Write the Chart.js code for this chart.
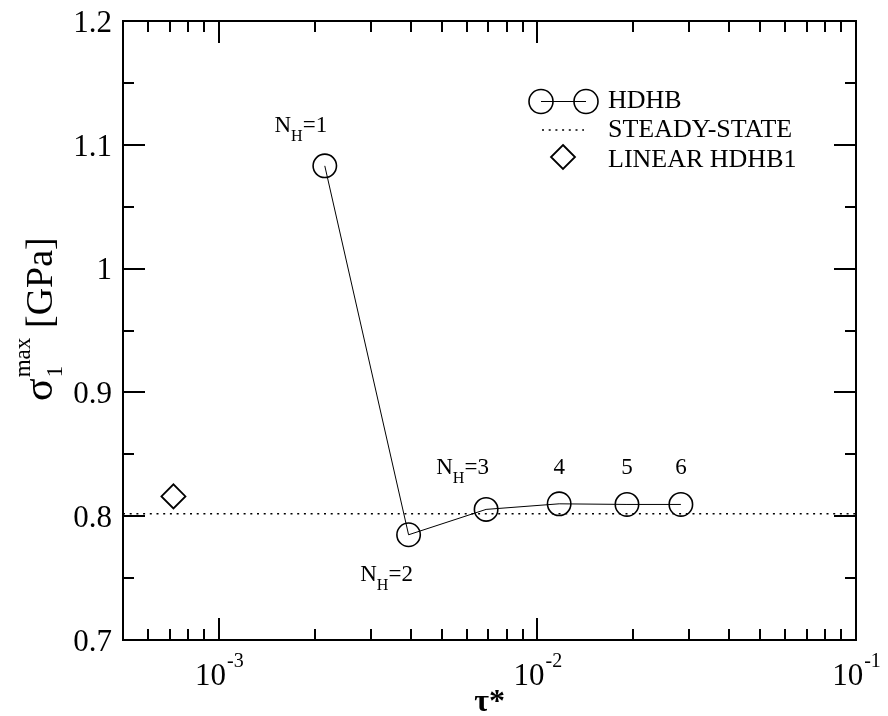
<!DOCTYPE html>
<html><head><meta charset="utf-8">
<script src="https://cdn.jsdelivr.net/npm/chart.js@4/dist/chart.umd.min.js"></script>
<style>html,body{margin:0;padding:0;background:#fff}#wrap{width:888px;height:716px;position:relative}</style>
</head><body><div id="wrap"><canvas id="c"></canvas></div>
<script>
// ---- data ----
const hdhbX = [2.15e-3, 3.94e-3, 6.9e-3, 1.17e-2, 1.91e-2, 2.82e-2];
const hdhbY = [1.083, 0.785, 0.8055, 0.810, 0.8095, 0.8095];
const hdhbMain = ['N', 'N', 'N', '4', '5', '6'];
const hdhbSub = ['H', 'H', 'H', '', '', ''];
const hdhbRest = ['=1', '=2', '=3', '', '', ''];
const steadyX = [5e-4, 1e-1];
const steadyY = [0.802, 0.802];
const linearX = [7.2e-4];
const linearY = [0.816];
const seriesNames = ['HDHB', 'STEADY-STATE', 'LINEAR HDHB1'];
const xMajorTicks = [1e-3, 1e-2, 1e-1];
const xMajorExp = ['-3', '-2', '-1'];
const xMinorTicks = [6e-4, 7e-4, 8e-4, 9e-4, 2e-3, 3e-3, 4e-3, 5e-3, 6e-3, 7e-3, 8e-3, 9e-3, 2e-2, 3e-2, 4e-2, 5e-2, 6e-2, 7e-2, 8e-2, 9e-2];
const yMajorTicks = [0.7, 0.8, 0.9, 1.0, 1.1, 1.2];
const yMajorLabels = ['0.7', '0.8', '0.9', '1', '1.1', '1.2'];
const yMinorTicks = [0.75, 0.85, 0.95, 1.05, 1.15];

// ---- layout (offsets of point labels, px) ----
const labelDX = [-24, -22, -23.5, 0, 0, 0];
const labelDY = [-34, 46, -35, -30, -30, -30];

const SERIF = '"Liberation Serif", "DejaVu Serif", serif';

function drawSubLabel(ctx, x, y, main, sub, rest, size) {
  ctx.font = size + 'px ' + SERIF;
  const w1 = ctx.measureText(main).width;
  const w3 = ctx.measureText(rest).width;
  ctx.font = (size * 0.7) + 'px ' + SERIF;
  const w2 = sub ? ctx.measureText(sub).width : 0;
  const total = w1 + w2 + w3;
  let cx = x - total / 2;
  ctx.textAlign = 'left';
  ctx.textBaseline = 'alphabetic';
  ctx.font = size + 'px ' + SERIF;
  ctx.fillText(main, cx, y); cx += w1;
  if (sub) { ctx.font = (size * 0.7) + 'px ' + SERIF; ctx.fillText(sub, cx, y + 9); cx += w2; }
  ctx.font = size + 'px ' + SERIF;
  if (rest) ctx.fillText(rest, cx, y);
}

const decor = {
  id: 'decor',
  afterDraw(chart) {
    const ctx = chart.ctx;
    const a = chart.chartArea;
    const xs = chart.scales.x, ys = chart.scales.y;
    ctx.save();
    ctx.strokeStyle = '#000';
    ctx.fillStyle = '#000';
    // frame
    ctx.lineWidth = 2;
    ctx.strokeRect(a.left, a.top, a.right - a.left, a.bottom - a.top);
    // ticks
    ctx.lineWidth = 2;
    ctx.beginPath();
    xMajorTicks.forEach(v => {
      const px = Math.round(xs.getPixelForValue(v));
      ctx.moveTo(px, a.bottom); ctx.lineTo(px, a.bottom - 22);
      ctx.moveTo(px, a.top); ctx.lineTo(px, a.top + 22);
    });
    xMinorTicks.forEach(v => {
      const px = Math.round(xs.getPixelForValue(v));
      ctx.moveTo(px, a.bottom); ctx.lineTo(px, a.bottom - 11);
      ctx.moveTo(px, a.top); ctx.lineTo(px, a.top + 11);
    });
    yMajorTicks.forEach(v => {
      const py = Math.round(ys.getPixelForValue(v));
      ctx.moveTo(a.left, py); ctx.lineTo(a.left + 22, py);
      ctx.moveTo(a.right, py); ctx.lineTo(a.right - 22, py);
    });
    yMinorTicks.forEach(v => {
      const py = Math.round(ys.getPixelForValue(v));
      ctx.moveTo(a.left, py); ctx.lineTo(a.left + 11, py);
      ctx.moveTo(a.right, py); ctx.lineTo(a.right - 11, py);
    });
    ctx.stroke();
    // y tick labels
    ctx.font = '31px ' + SERIF;
    ctx.textAlign = 'right';
    ctx.textBaseline = 'alphabetic';
    yMajorTicks.forEach((v, i) => {
      const py = ys.getPixelForValue(v);
      ctx.fillText(yMajorLabels[i], a.left - 11, py + 10.8);
    });
    // x tick labels 10^n
    xMajorTicks.forEach((v, i) => {
      const px = xs.getPixelForValue(v);
      ctx.font = '31px ' + SERIF;
      const w1 = ctx.measureText('10').width;
      ctx.font = '20px ' + SERIF;
      const w2 = ctx.measureText(xMajorExp[i]).width;
      const x0 = px - (w1 + w2) / 2;
      ctx.textAlign = 'left';
      ctx.font = '31px ' + SERIF;
      ctx.fillText('10', x0, a.bottom + 45);
      ctx.font = '20px ' + SERIF;
      ctx.fillText(xMajorExp[i], x0 + w1 + 1, a.bottom + 27);
    });
    // x title
    ctx.font = 'bold 32px ' + SERIF;
    ctx.textAlign = 'center';
    ctx.fillText('τ*', (a.left + a.right) / 2, 711);
    // y title (rotated)
    ctx.save();
    ctx.translate(52, 401);
    ctx.rotate(-Math.PI / 2);
    ctx.textAlign = 'left';
    ctx.font = '42px ' + SERIF;
    ctx.fillText('σ', 0, 0);
    const us = ctx.measureText('σ').width + 1;
    ctx.font = '23px ' + SERIF;
    ctx.fillText('1', us, 10);
    ctx.fillText('max', us, -22);
    ctx.font = '38px ' + SERIF;
    ctx.fillText('[GPa]', 73, 0);
    ctx.restore();
    // point labels
    hdhbX.forEach((v, i) => {
      const px = xs.getPixelForValue(v) + labelDX[i];
      const py = ys.getPixelForValue(hdhbY[i]) + labelDY[i];
      drawSubLabel(ctx, px, py, hdhbMain[i], hdhbSub[i], hdhbRest[i], 23);
    });
    // legend
    const lx = 608, ly = [108, 137, 167];
    ctx.font = '26px ' + SERIF;
    ctx.textAlign = 'left';
    seriesNames.forEach((n, i) => ctx.fillText(n, lx, ly[i]));
    ctx.lineWidth = 1;
    ctx.beginPath(); ctx.moveTo(541, 101.5); ctx.lineTo(586, 101.5); ctx.stroke();
    ctx.lineWidth = 1.6;
    [541, 586].forEach(cx => { ctx.beginPath(); ctx.arc(cx, 101.5, 12, 0, Math.PI * 2); ctx.stroke(); });
    ctx.setLineDash([2, 4.7]);
    ctx.beginPath(); ctx.moveTo(542, 130); ctx.lineTo(584, 130); ctx.stroke();
    ctx.setLineDash([]);
    ctx.lineWidth = 1.8;
    ctx.beginPath();
    ctx.moveTo(563, 145); ctx.lineTo(575, 157); ctx.lineTo(563, 169); ctx.lineTo(551, 157); ctx.closePath();
    ctx.stroke();
    ctx.restore();
  }
};

new Chart(document.getElementById('c'), {
  type: 'scatter',
  data: {
    datasets: [
      {
        label: seriesNames[1],
        data: steadyX.map((x, i) => ({x, y: steadyY[i]})),
        showLine: true, borderColor: '#000', borderWidth: 1.6, borderDash: [2, 4.7],
        pointRadius: 0, fill: false
      },
      {
        label: seriesNames[0],
        data: hdhbX.map((x, i) => ({x, y: hdhbY[i]})),
        showLine: true, borderColor: '#000', borderWidth: 1, fill: false,
        pointStyle: 'circle', pointRadius: 11.7, pointBorderWidth: 1.6,
        pointBorderColor: '#000', pointBackgroundColor: 'rgba(0,0,0,0)'
      },
      {
        label: seriesNames[2],
        data: linearX.map((x, i) => ({x, y: linearY[i]})),
        showLine: false, pointStyle: 'rectRot', pointRadius: 12, pointBorderWidth: 1.8,
        pointBorderColor: '#000', pointBackgroundColor: 'rgba(0,0,0,0)'
      }
    ]
  },
  options: {
    responsive: true, maintainAspectRatio: false, animation: false,
    devicePixelRatio: 1,
    layout: { padding: { left: 123, right: 32, top: 21, bottom: 76 } },
    plugins: { legend: { display: false }, tooltip: { enabled: false } },
    scales: {
      x: { type: 'logarithmic', min: 5e-4, max: 1e-1, display: false },
      y: { type: 'linear', min: 0.7, max: 1.2, display: false }
    }
  },
  plugins: [decor]
});
</script>
</body></html>
